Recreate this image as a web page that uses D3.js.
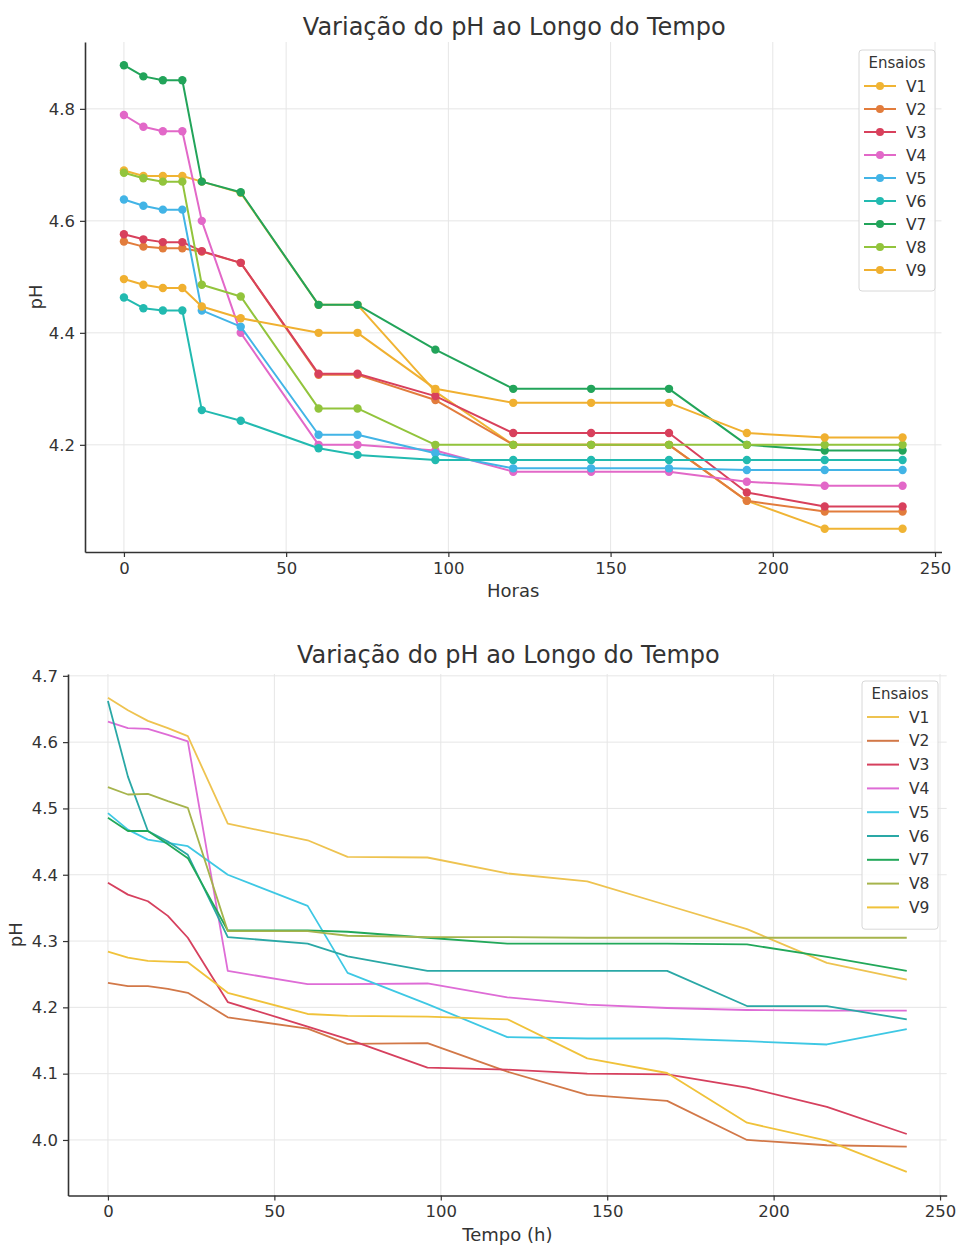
<!DOCTYPE html>
<html>
<head>
<meta charset="utf-8">
<script src="https://cdn.jsdelivr.net/npm/d3@7"></script>
<style>
  body { margin: 0; background: #fff; }
  text { font-family: "DejaVu Sans", sans-serif; fill: #333; }
</style>
</head>
<body>
<script>
// tempos de coleta (h)
var horas = [0, 6, 12, 18, 24, 36, 60, 72, 96, 120, 144, 168, 192, 216, 240];
var ensaios = ["V1", "V2", "V3", "V4", "V5", "V6", "V7", "V8", "V9"];
var xTicks = [0, 50, 100, 150, 200, 250];

// grafico 1 (com marcadores)
var topV1 = [4.69, 4.68, 4.68, 4.68, 4.67, 4.65, 4.45, 4.45, 4.295, 4.20, 4.20, 4.20, 4.10, 4.05, 4.05];
var topV2 = [4.563, 4.554, 4.551, 4.551, 4.545, 4.525, 4.325, 4.325, 4.28, 4.20, 4.20, 4.20, 4.10, 4.081, 4.081];
var topV3 = [4.576, 4.567, 4.562, 4.562, 4.546, 4.525, 4.327, 4.327, 4.287, 4.221, 4.221, 4.221, 4.115, 4.09, 4.09];
var topV4 = [4.789, 4.768, 4.76, 4.76, 4.60, 4.40, 4.20, 4.20, 4.19, 4.152, 4.152, 4.152, 4.134, 4.127, 4.127];
var topV5 = [4.638, 4.627, 4.62, 4.62, 4.44, 4.411, 4.218, 4.218, 4.185, 4.158, 4.158, 4.158, 4.155, 4.155, 4.155];
var topV6 = [4.463, 4.444, 4.44, 4.44, 4.262, 4.243, 4.194, 4.182, 4.173, 4.173, 4.173, 4.173, 4.173, 4.173, 4.173];
var topV7 = [4.878, 4.858, 4.851, 4.851, 4.670, 4.651, 4.45, 4.45, 4.37, 4.30, 4.30, 4.30, 4.20, 4.19, 4.19];
var topV8 = [4.686, 4.676, 4.670, 4.670, 4.486, 4.465, 4.265, 4.265, 4.20, 4.20, 4.20, 4.20, 4.20, 4.20, 4.20];
var topV9 = [4.496, 4.486, 4.48, 4.48, 4.447, 4.426, 4.40, 4.40, 4.30, 4.275, 4.275, 4.275, 4.221, 4.213, 4.213];
var topYTicks = [4.2, 4.4, 4.6, 4.8];
var topColors = ["#f0b434", "#e27c3c", "#d8405c", "#e268c8", "#42b4e6", "#22bab0", "#22a45a", "#92c43c", "#f0b030"];

// grafico 2 (so linhas)
var botV1 = [4.667, 4.648, 4.632, 4.621, 4.609, 4.477, 4.452, 4.427, 4.426, 4.402, 4.390, 4.354, 4.318, 4.267, 4.242];
var botV2 = [4.237, 4.232, 4.232, 4.228, 4.222, 4.185, 4.168, 4.145, 4.146, 4.103, 4.068, 4.059, 4.00, 3.992, 3.99];
var botV3 = [4.388, 4.370, 4.360, 4.338, 4.305, 4.208, 4.171, 4.152, 4.109, 4.106, 4.100, 4.099, 4.079, 4.05, 4.009];
var botV4 = [4.631, 4.621, 4.620, 4.611, 4.601, 4.255, 4.235, 4.235, 4.236, 4.215, 4.204, 4.199, 4.196, 4.195, 4.195];
var botV5 = [4.493, 4.468, 4.453, 4.448, 4.443, 4.400, 4.353, 4.252, 4.205, 4.155, 4.153, 4.153, 4.149, 4.144, 4.167];
var botV6 = [4.662, 4.548, 4.466, 4.45, 4.43, 4.306, 4.296, 4.277, 4.255, 4.255, 4.255, 4.255, 4.202, 4.202, 4.182];
var botV7 = [4.486, 4.466, 4.466, 4.446, 4.425, 4.316, 4.316, 4.314, 4.305, 4.296, 4.296, 4.296, 4.295, 4.276, 4.255];
var botV8 = [4.532, 4.521, 4.522, 4.511, 4.501, 4.315, 4.315, 4.308, 4.306, 4.306, 4.305, 4.305, 4.305, 4.305, 4.305];
var botV9 = [4.284, 4.275, 4.270, 4.269, 4.268, 4.222, 4.190, 4.187, 4.186, 4.182, 4.123, 4.101, 4.026, 3.999, 3.952];
var botYTicks = [4.0, 4.1, 4.2, 4.3, 4.4, 4.5, 4.6, 4.7];
var botColors = ["#eec350", "#d27848", "#d6405e", "#de6cd6", "#3ec8e4", "#2aa8a6", "#22a85a", "#a6b44c", "#f0c23a"];

var svg = d3.select("body")
  .append("svg")
    .attr("width", 961)
    .attr("height", 1245);

svg.append("rect").attr("width", 961).attr("height", 1245).attr("fill", "#fff");

function drawChart(cfg) {
  var series = cfg.values.map(function(vals, i) {
    return { name: ensaios[i], color: cfg.colors[i], pts: vals.map(function(v, j) { return [horas[j], v]; }) };
  });
  var all = d3.merge(cfg.values);
  var lo = d3.min(all), hi = d3.max(all), pad = (hi - lo) * 0.05;

  var x = d3.scaleLinear().domain([-12, 252]).range([cfg.left, cfg.right]);
  var y = d3.scaleLinear().domain([lo - pad, hi + pad]).range([cfg.bottom, cfg.top]);

  var g = svg.append("g");

  // grade
  g.append("g").selectAll("line").data(xTicks).enter().append("line")
    .attr("x1", function(d) { return x(d); }).attr("x2", function(d) { return x(d); })
    .attr("y1", cfg.top).attr("y2", cfg.bottom)
    .attr("stroke", "#e6e6e6").attr("stroke-width", 1);
  g.append("g").selectAll("line").data(cfg.yTicks).enter().append("line")
    .attr("x1", cfg.left).attr("x2", cfg.right)
    .attr("y1", function(d) { return y(d); }).attr("y2", function(d) { return y(d); })
    .attr("stroke", "#e6e6e6").attr("stroke-width", 1);

  // eixos
  var bottomAxis = d3.axisBottom(x).tickValues(xTicks).tickFormat(d3.format("d"))
    .tickSizeInner(5).tickSizeOuter(0).tickPadding(5);
  var gx = g.append("g")
    .attr("transform", "translate(0," + cfg.bottom + ")")
    .call(bottomAxis);
  var leftAxis = d3.axisLeft(y).tickValues(cfg.yTicks).tickFormat(d3.format(".1f"))
    .tickSizeInner(5).tickSizeOuter(0).tickPadding(5);
  var gy = g.append("g")
    .attr("transform", "translate(" + cfg.left + ",0)")
    .call(leftAxis);
  [gx, gy].forEach(function(a) {
    a.select(".domain").attr("stroke", "#333").attr("stroke-width", 1.6);
    a.selectAll(".tick line").attr("stroke", "#333").attr("stroke-width", 1.2);
    a.selectAll("text").attr("font-size", "16.5px").attr("fill", "#333")
      .style("font-family", "DejaVu Sans, sans-serif");
  });

  // linhas
  var line = d3.line().x(function(d) { return x(d[0]); }).y(function(d) { return y(d[1]); });
  series.forEach(function(s) {
    g.append("path")
      .datum(s.pts)
      .attr("fill", "none")
      .attr("stroke", s.color)
      .attr("stroke-width", cfg.markers ? 2 : 1.8)
      .attr("stroke-linejoin", "round")
      .attr("d", line);
    if (cfg.markers) {
      g.append("g").selectAll("circle").data(s.pts).enter().append("circle")
        .attr("cx", function(d) { return x(d[0]); })
        .attr("cy", function(d) { return y(d[1]); })
        .attr("r", 4.2)
        .attr("fill", s.color);
    }
  });

  // titulo e rotulos
  g.append("text")
    .attr("x", (cfg.left + cfg.right) / 2 + 1)
    .attr("y", cfg.titleY)
    .attr("text-anchor", "middle")
    .attr("font-size", "24px")
    .text("Variação do pH ao Longo do Tempo");
  g.append("text")
    .attr("x", (cfg.left + cfg.right) / 2)
    .attr("y", cfg.bottom + 45)
    .attr("text-anchor", "middle")
    .attr("font-size", "18px")
    .text(cfg.xLabel);
  g.append("text")
    .attr("transform", "translate(" + cfg.yLabelX + "," + ((cfg.top + cfg.bottom) / 2) + ") rotate(-90)")
    .attr("text-anchor", "middle")
    .attr("font-size", "18px")
    .text("pH");

  // legenda
  var lg = g.append("g").attr("transform", "translate(" + cfg.legX + "," + cfg.legY + ")");
  lg.append("rect")
    .attr("width", 76).attr("height", 34 + ensaios.length * cfg.legStep)
    .attr("rx", 3)
    .attr("fill", "#fff").attr("fill-opacity", 0.85)
    .attr("stroke", "#d8d8d8");
  lg.append("text")
    .attr("x", 38).attr("y", 18)
    .attr("text-anchor", "middle")
    .attr("font-size", "15px")
    .text("Ensaios");
  series.forEach(function(s, i) {
    var yy = 36 + i * cfg.legStep;
    lg.append("line")
      .attr("x1", 5).attr("x2", 37).attr("y1", yy).attr("y2", yy)
      .attr("stroke", s.color).attr("stroke-width", 2);
    if (cfg.markers) {
      lg.append("circle").attr("cx", 21).attr("cy", yy).attr("r", 4).attr("fill", s.color);
    }
    lg.append("text")
      .attr("x", 47).attr("y", yy + 5.5)
      .attr("font-size", "15.5px")
      .text(s.name);
  });
}

drawChart({
  values: [topV1, topV2, topV3, topV4, topV5, topV6, topV7, topV8, topV9],
  colors: topColors, yTicks: topYTicks, markers: true,
  left: 85, right: 941.5, top: 42, bottom: 552, titleY: 35,
  xLabel: "Horas", yLabelX: 42,
  legX: 859, legY: 50, legStep: 23
});

drawChart({
  values: [botV1, botV2, botV3, botV4, botV5, botV6, botV7, botV8, botV9],
  colors: botColors, yTicks: botYTicks, markers: false,
  left: 68, right: 946.7, top: 674, bottom: 1195.5, titleY: 663,
  xLabel: "Tempo (h)", yLabelX: 22,
  legX: 862, legY: 681, legStep: 23.8
});
</script>
</body>
</html>
